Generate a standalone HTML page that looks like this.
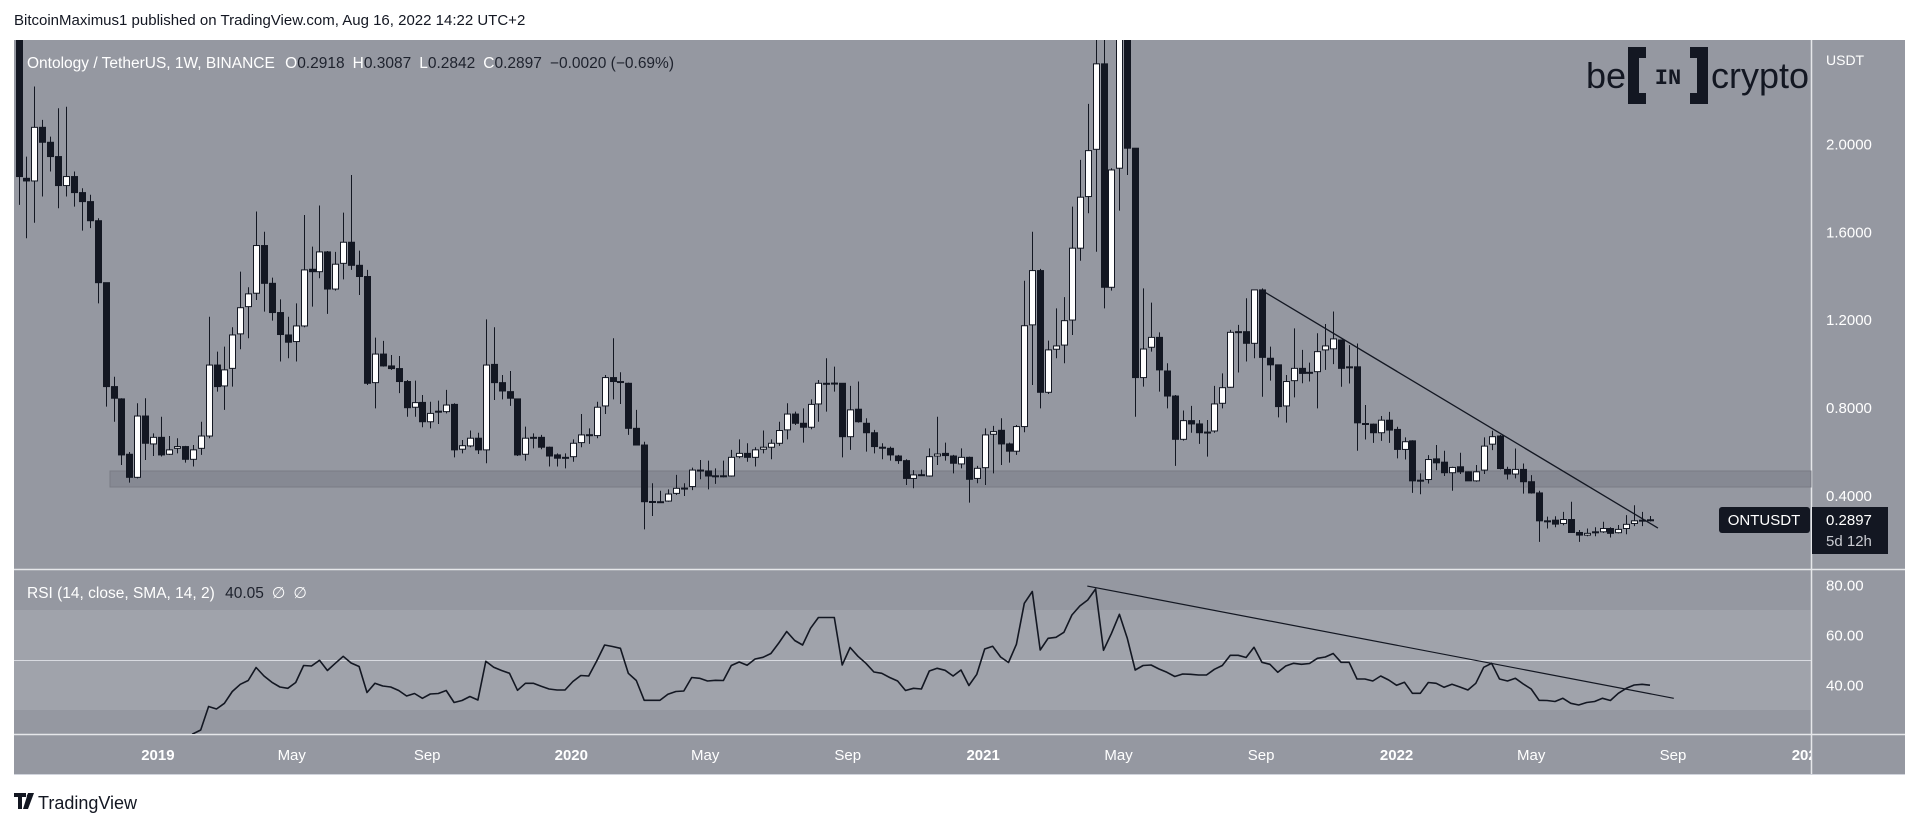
<!DOCTYPE html>
<html><head><meta charset="utf-8"><title>ONTUSDT 1W</title>
<style>
html,body{margin:0;padding:0;background:#fff;width:1920px;height:826px;overflow:hidden;font-family:"Liberation Sans",sans-serif}
#wrap{position:relative;width:1920px;height:826px}
.txt{position:absolute;white-space:nowrap}
</style></head>
<body><div id="wrap">
<div class="txt" style="left:14px;top:12px;font-size:15px;color:#131722">BitcoinMaximus1 published on TradingView.com, Aug 16, 2022 14:22 UTC+2</div>
<svg id="chart" width="1920" height="826" style="position:absolute;left:0;top:0" xmlns="http://www.w3.org/2000/svg">
<defs>
<clipPath id="mainClip"><rect x="14" y="40" width="1797" height="529"/></clipPath>
<clipPath id="rsiClip"><rect x="14" y="570" width="1797" height="164"/></clipPath>
</defs>
<rect x="14" y="40" width="1891" height="734" fill="#9598a1"/>
<rect x="14" y="610" width="1797" height="100" fill="#a0a3ab"/>
<line x1="14" y1="660.5" x2="1811" y2="660.5" stroke="#d8dae0" stroke-width="1"/>
<line x1="14" y1="569.5" x2="1905" y2="569.5" stroke="#e6e7ea" stroke-width="1.5"/>
<line x1="14" y1="734.5" x2="1905" y2="734.5" stroke="#e6e7ea" stroke-width="1.5"/>
<line x1="1811.5" y1="40" x2="1811.5" y2="774" stroke="#e6e7ea" stroke-width="1.5"/>
<line x1="14" y1="774.5" x2="1905" y2="774.5" stroke="#d1d4dc" stroke-width="1"/>
<rect x="110" y="471" width="1701" height="16" fill="#868993" stroke="#797c85" stroke-width="1"/>
<g id="candles" clip-path="url(#mainClip)"></g>
<g id="mainTrend" clip-path="url(#mainClip)"></g>
<g id="rsiG" clip-path="url(#rsiClip)"></g>
<g id="axes"></g>
<text x="1826" y="65" font-size="14" fill="#ffffff" font-family="Liberation Sans, sans-serif">USDT</text>
<text x="27" y="68" font-size="15.5" font-family="Liberation Sans, sans-serif" fill="#ffffff">Ontology / TetherUS, 1W, BINANCE <tspan dx="6">O</tspan><tspan fill="#1e222d">0.2918</tspan><tspan dx="8">H</tspan><tspan fill="#1e222d">0.3087</tspan><tspan dx="8">L</tspan><tspan fill="#1e222d">0.2842</tspan><tspan dx="8">C</tspan><tspan fill="#1e222d">0.2897</tspan><tspan dx="8" fill="#1e222d">−0.0020 (−0.69%)</tspan></text>
<text x="27" y="598" font-size="15.5" font-family="Liberation Sans, sans-serif" fill="#ffffff">RSI (14, close, SMA, 14, 2) <tspan dx="6" fill="#1e222d">40.05</tspan><tspan dx="8">∅</tspan><tspan dx="8">∅</tspan></text>
<g>
<text x="1586" y="88" font-size="36" fill="#131722" font-family="Liberation Sans, sans-serif">be</text>
<path d="M1628 47 h18 v11 h-7 v35 h7 v11 h-18 z M1708 47 h-18 v11 h7 v35 h-7 v11 h18 z" fill="#131722"/>
<text x="1668" y="84" font-size="22" font-weight="bold" fill="#131722" text-anchor="middle" font-family="Liberation Mono, monospace">IN</text>
<text x="1711" y="88" font-size="36" fill="#131722" font-family="Liberation Sans, sans-serif" textLength="98" lengthAdjust="spacingAndGlyphs">crypto</text>
</g>
<g>
<rect x="1719" y="507" width="91" height="26" rx="3" fill="#131722"/>
<text x="1764" y="525" font-size="15" fill="#ffffff" text-anchor="middle" font-family="Liberation Sans, sans-serif">ONTUSDT</text>
<rect x="1812" y="507" width="76" height="47" fill="#131722"/>
<text x="1826" y="525" font-size="15" fill="#ffffff" font-family="Liberation Sans, sans-serif">0.2897</text>
<text x="1826" y="546" font-size="15" fill="#c9cbd1" font-family="Liberation Sans, sans-serif">5d 12h</text>
</g>
<g>
<path d="M14 793 h12 v4 h-4 v12 h-4 v-12 h-4 z M28 793 h6 l-6 16 h-5 z" fill="#131722"/>
<circle cx="29" cy="796" r="2.2" fill="#131722"/>
<text x="38" y="809" font-size="18" fill="#131722" font-family="Liberation Sans, sans-serif">TradingView</text>
</g>
</svg>
</div>
<script>
const NS="http://www.w3.org/2000/svg";
const opens=[2.48,1.846,1.834,2.078,2.010,1.945,1.813,1.854,1.781,1.740,
1.653,1.371,.898,.842,.590,.485,.764,.637,.667,.590,
.617,.625,.567,.617,.673,.996,.901,.981,1.138,1.262,
1.323,1.540,1.368,1.235,1.133,1.103,1.174,1.432,1.421,1.511,
1.342,1.459,1.555,1.450,1.399,.916,1.046,.992,.980,.921,
.804,.826,.738,.786,.784,.817,.613,.628,.663,.610,
.999,.916,.875,.842,.590,.667,.667,.622,.587,.576,
.579,.643,.678,.675,.810,.939,.921,.913,.708,.632,
.374,.374,.377,.412,.435,.443,.518,.514,.491,.491,
.491,.579,.594,.576,.613,.622,.640,.701,.773,.731,
.713,.819,.913,.913,.913,.670,.795,.731,.688,.622,
.617,.582,.561,.480,.496,.491,.582,.594,.582,.546,
.576,.480,.529,.681,.699,.637,.604,.716,1.179,1.426,
.872,1.068,1.087,1.201,1.528,1.763,1.978,2.367,1.350,1.892,
2.7,1.983,.939,1.077,1.122,.969,.855,.658,.743,.728,
.690,.696,.822,.895,1.148,1.148,1.095,1.338,1.027,.997,
.810,.925,.981,.963,.966,1.065,1.07,1.110,.988,.988,
.730,.727,.688,.745,.703,.612,.651,.472,.475,.569,
.554,.506,.533,.510,.469,.518,.636,.673,.521,.500,
.521,.465,.414,.287,.290,.275,.293,.234,.222,.237,
.237,.252,.233,.252,.275,.290,.2918];
const highs=[2.5,1.945,2.264,2.112,2.036,2.165,2.172,1.877,1.801,1.771,
1.664,1.371,.943,.845,.600,.822,.845,.685,.761,.673,
.663,.628,.632,.738,1.216,1.057,1.080,1.168,1.421,1.350,
1.695,1.603,1.394,1.295,1.216,1.277,1.679,1.535,1.722,1.515,
1.511,1.690,1.861,1.517,1.429,1.121,1.106,1.042,1.037,.928,
.925,.860,.829,.834,.883,.822,.655,.698,.688,1.204,
1.168,.951,.969,.842,.716,.685,.678,.625,.594,.594,
.658,.773,.708,.829,.951,1.118,.963,.916,.792,.647,
.458,.424,.430,.496,.458,.529,.564,.561,.526,.561,
.610,.658,.640,.622,.698,.658,.738,.822,.784,.799,
.840,.928,1.027,.989,.913,.901,.921,.754,.701,.640,
.625,.587,.567,.518,.520,.617,.761,.643,.587,.617,
.579,.537,.708,.719,.754,.643,.723,1.380,1.603,1.434,
1.107,1.254,1.305,1.717,1.930,2.185,2.55,2.55,1.892,3.0,
3.0,1.983,1.345,1.280,1.145,1.004,.860,.789,.810,.746,
.746,.901,.958,1.156,1.179,1.300,1.338,1.345,1.080,.997,
.951,1.163,1.065,1.007,1.141,1.183,1.24,1.110,1.087,1.094,
.814,.730,.764,.783,.715,.667,.654,.503,.586,.632,
.606,.533,.597,.512,.541,.667,.697,.678,.533,.616,
.548,.495,.424,.306,.308,.328,.374,.245,.252,.258,
.283,.258,.268,.313,.358,.328,.3087];
const lows=[1.725,1.573,1.644,1.763,1.877,1.710,1.763,1.717,1.608,1.619,
1.277,.807,.738,.541,.461,.480,.564,.582,.580,.587,
.594,.552,.534,.587,.663,.875,.792,.898,1.068,1.118,
1.292,1.239,1.198,1.012,1.027,1.012,1.168,1.262,1.391,1.229,
1.335,1.386,1.429,1.315,.905,.799,.989,.974,.868,.761,
.761,.713,.708,.728,.776,.576,.594,.622,.591,.549,
.837,.840,.810,.582,.561,.617,.613,.534,.534,.526,
.556,.622,.637,.663,.773,.840,.819,.678,.632,.248,
.309,.370,.374,.405,.400,.427,.476,.430,.455,.485,
.488,.572,.556,.534,.594,.567,.628,.658,.723,.643,
.704,.738,.784,.875,.576,.610,.734,.602,.594,.567,
.561,.546,.450,.435,.491,.488,.541,.561,.503,.526,
.370,.458,.450,.503,.541,.552,.587,.690,.905,.799,
.864,1.027,1.004,1.133,1.471,1.687,1.512,1.254,1.335,1.699,
1.861,.761,.898,1.057,.875,.799,.537,.652,.688,.637,
.579,.688,.799,.893,.962,1.012,1.027,.852,.925,.758,
.734,.849,.913,.921,.799,.974,1.0,.897,.912,.606,
.657,.642,.651,.642,.571,.566,.414,.408,.457,.518,
.491,.424,.500,.469,.465,.500,.609,.521,.475,.480,
.411,.411,.191,.252,.258,.267,.233,.191,.217,.217,
.232,.211,.230,.226,.263,.263,.2842];
const closes=[1.854,1.834,2.078,2.010,1.945,1.813,1.854,1.781,1.740,1.653,
1.371,.898,.845,.587,.485,.764,.640,.667,.587,.610,
.625,.567,.610,.673,.996,.898,.974,1.133,1.257,1.320,
1.540,1.368,1.235,1.135,1.100,1.174,1.429,1.421,1.511,1.342,
1.455,1.555,1.450,1.399,.913,1.046,.992,.980,.921,.802,
.825,.738,.776,.784,.814,.610,.629,.663,.610,.996,
.916,.878,.845,.587,.663,.667,.622,.582,.572,.575,
.640,.678,.679,.804,.939,.921,.920,.708,.632,.374,
.375,.374,.409,.435,.436,.518,.518,.491,.492,.492,
.576,.594,.576,.610,.622,.640,.698,.773,.731,.713,
.817,.913,.913,.914,.670,.792,.738,.688,.625,.621,
.587,.561,.480,.496,.497,.579,.591,.584,.549,.576,
.476,.526,.678,.693,.637,.604,.716,1.175,1.426,.872,
1.065,1.083,1.198,1.528,1.760,1.972,2.367,1.350,1.884,2.7,
1.983,.939,1.069,1.122,.974,.855,.658,.743,.728,.688,
.691,.819,.893,1.145,1.148,1.095,1.338,1.031,.997,.807,
.921,.981,.958,.962,1.057,1.083,1.115,.981,.988,.733,
.730,.688,.745,.700,.612,.647,.469,.472,.566,.551,
.506,.530,.510,.469,.510,.627,.670,.525,.500,.521,
.465,.414,.287,.287,.272,.293,.234,.222,.230,.237,
.252,.230,.248,.271,.287,.290,.2897];
const rsiStart=21;
const rsiValues=[17,20.5,22.1,31.5,30.5,32.8,37.5,40.4,41.9,
47.1,43.7,41.2,39.3,38.8,41.1,47.9,47.7,50,45.9,
48.8,51.6,48.9,47.5,37.1,40.8,39.7,39.3,37.9,35.7,
36.7,34.8,36.5,36.7,37.9,33.1,33.9,35.5,34.1,49.6,
47.2,45.9,44.8,38,40.8,40.8,39.6,38.5,38.1,38.1,
41.5,43.9,43.7,49.7,56.1,55.5,54.8,44.8,41.9,34,
34,34,36.4,37.5,37.7,43.1,42.8,41.7,42,41.9,
47.9,49.3,48,50.5,51.2,52.7,56.9,61.5,57.9,56.1,
62.8,67.1,67.1,67.1,48.1,55.1,51.6,48.8,45.3,44.8,
43.1,41.7,37.9,38.8,38.5,45.7,46.8,46,43.7,46.1,
39.9,44.4,54.5,55.6,51.3,49.1,56.4,72.8,77.5,54.1,
58.8,59.2,61.2,68.1,71.7,74.1,78.5,54,60.8,68.4,
58.8,46.1,47.9,48.1,46.5,45.2,43.5,44.5,44.4,44.1,
44.1,46.4,47.9,52,52,51.1,55.2,49.2,48.4,45.2,
47.7,48.8,48.4,48.7,50.8,51.3,52.7,49.2,49.2,42.5,
42.5,41.7,43.7,42.1,40,41.2,36.8,36.8,41.1,40.8,
39.2,40.4,39.3,38.1,40.8,47.2,48.8,42.5,41.7,42.8,
40.5,38.5,34,33.9,33.5,34.8,32.8,32.1,33.1,33.5,
34.8,33.9,36.8,38.8,40.1,40.4,40.05];
const priceTicks=[2.0,1.6,1.2,0.8,0.4];
const priceTickLabels=["2.0000","1.6000","1.2000","0.8000","0.4000"];
const rsiTicks=[80,60,40];
const rsiTickLabels=["80.00","60.00","40.00"];
const timeTickIdx=[17.6,34.5,51.6,69.8,86.7,104.7,121.8,138.9,156.9,174.0,191.0,208.9,226.0];
const timeTickLabels=["2019","May","Sep","2020","May","Sep","2021","May","Sep","2022","May","Sep","2023"];
const priceTrendIdx=[156.9,207.0];
const priceTrendVals=[1.338,0.254];
const rsiTrendIdx=[134.95,209.0];
const rsiTrendVals=[79.7,34.8];

const xOf=i=>18.5+7.92*i;
const yP=p=>496-(p-0.4)*219.7;
const yR=r=>660.3-(r-50)*2.5;
function mk(tag,attrs,parent){const e=document.createElementNS(NS,tag);for(const k in attrs)e.setAttribute(k,attrs[k]);parent.appendChild(e);return e;}

const cg=document.getElementById('candles');
for(let i=0;i<closes.length;i++){
  const x=Math.round(xOf(i))+0.5, o=opens[i], c=closes[i];
  const g=mk('g',{},cg);
  
  
  mk('line',{x1:x,x2:x,y1:yP(highs[i]),y2:yP(lows[i]),stroke:'#131722','stroke-width':1},g);
  const top=yP(Math.max(o,c)), bot=yP(Math.min(o,c));
  const up=c>=o;
  mk('rect',{x:x-3,y:top,width:6,height:Math.max(1,bot-top),fill:up?'#ffffff':'#131722',stroke:'#131722','stroke-width':1},g);
}
const mt=document.getElementById('mainTrend');
const l1=mk('line',{x1:xOf(priceTrendIdx[0]),y1:yP(priceTrendVals[0]),x2:xOf(priceTrendIdx[1]),y2:yP(priceTrendVals[1]),stroke:'#131722','stroke-width':1.3},mt);



const rg=document.getElementById('rsiG');
let d='';
rsiValues.forEach((v,k)=>{d+=(k?'L':'M')+xOf(rsiStart+k).toFixed(1)+' '+yR(v).toFixed(1);});
const rl=mk('path',{d:d,fill:'none',stroke:'#131722','stroke-width':1.6,'stroke-linejoin':'round'},rg);


const rt=mk('line',{x1:xOf(rsiTrendIdx[0]),y1:yR(rsiTrendVals[0]),x2:xOf(rsiTrendIdx[1]),y2:yR(rsiTrendVals[1]),stroke:'#131722','stroke-width':1.2},rg);



const ax=document.getElementById('axes');
priceTicks.forEach((p,k)=>{
  const t=mk('text',{x:1826,y:yP(p)+5,'font-size':15,fill:'#ffffff','font-family':'Liberation Sans, sans-serif'},ax);
  
  
  t.textContent=priceTickLabels[k];
});
rsiTicks.forEach((r,k)=>{
  const t=mk('text',{x:1826,y:yR(r)+5,'font-size':15,fill:'#ffffff','font-family':'Liberation Sans, sans-serif'},ax);
  
  
  t.textContent=rsiTickLabels[k];
});
const tclip=mk('clipPath',{id:'timeClip'},ax);mk('rect',{x:14,y:735,width:1797,height:40},tclip);
const tg=mk('g',{'clip-path':'url(#timeClip)'},ax);
timeTickIdx.forEach((ix,k)=>{
  const isYear=/^\d+$/.test(timeTickLabels[k]);
  const t=mk('text',{x:xOf(ix),y:760,'font-size':15,'text-anchor':'middle',fill:'#ffffff','font-weight':isYear?'bold':'normal','font-family':'Liberation Sans, sans-serif'},tg);
  
  
  t.textContent=timeTickLabels[k];
});
</script>
</body></html>
